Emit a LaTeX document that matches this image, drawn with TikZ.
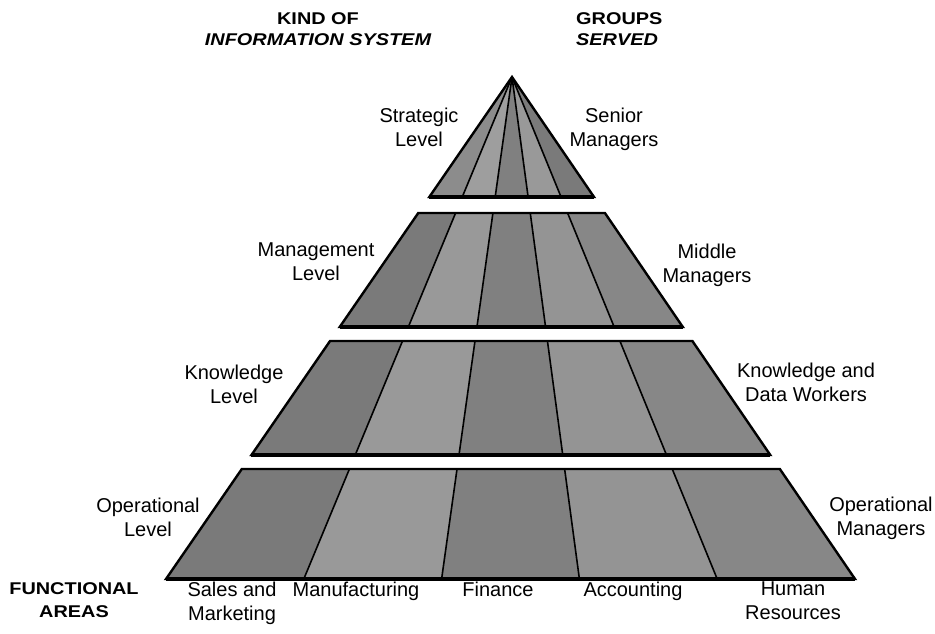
\documentclass[tikz,border=0pt]{standalone}
\usepackage{fontspec}
\setmainfont{Liberation Sans}
\usetikzlibrary{calc}
% left / right edge of the pyramid at height y (apex 512,77; base 166..855 at y=579)
\newcommand\drawtier[2]{%
  \pgfmathsetmacro\tl{512-0.68924*(#1-77)}%
  \pgfmathsetmacro\tr{512+0.68327*(#1-77)}%
  \pgfmathsetmacro\bl{512-0.68924*(#2-77)}%
  \pgfmathsetmacro\br{512+0.68327*(#2-77)}%
  \foreach \i/\s in {0/52,1/40,2/50,3/42,4/47}{%
    \pgfmathsetmacro\ta{\tl+(\tr-\tl)*\i/5}%
    \pgfmathsetmacro\tb{\tl+(\tr-\tl)*(\i+1)/5}%
    \pgfmathsetmacro\ba{\bl+(\br-\bl)*\i/5}%
    \pgfmathsetmacro\bb{\bl+(\br-\bl)*(\i+1)/5}%
    \fill[black!\s] (\ta,#1) -- (\tb,#1) -- (\bb,#2) -- (\ba,#2) -- cycle;
  }%
  \foreach \i in {1,2,3,4}{%
    \pgfmathsetmacro\ta{\tl+(\tr-\tl)*\i/5}%
    \pgfmathsetmacro\ba{\bl+(\br-\bl)*\i/5}%
    \draw[divider] (\ta,#1) -- (\ba,#2);
  }%
  \draw[edge] (\tl,#1) -- (\tr,#1) -- (\br,#2) -- (\bl,#2) -- cycle;
  \draw[line width=3.2pt] (\bl,#2) -- (\br,#2);
}
\begin{document}
\begin{tikzpicture}[x=1pt,y=-1pt,
  lbl/.style={font=\fontsize{20}{23.5}\selectfont, align=center, inner sep=0pt, anchor=north},
  ttl/.style={font=\fontsize{17}{21}\selectfont\bfseries, inner sep=0pt, anchor=north},
  edge/.style={line width=2.4pt, line join=miter},
  divider/.style={line width=1.6pt}]
\useasboundingbox (0,0) rectangle (935,634);

% strategic triangle
\coordinate (apex) at (512,77);
\coordinate (sl) at (429.3,197);
\coordinate (sr) at (594.0,197);
\foreach \i/\s in {0/45,1/38,2/50,3/40,4/52}{
  \fill[black!\s] (apex) -- ($(sl)!\i/5!(sr)$) -- ($(sl)!{(\i+1)/5}!(sr)$) -- cycle;
}
\foreach \i in {1,2,3,4}{
  \draw[divider] (apex) -- ($(sl)!\i/5!(sr)$);
}
\draw[edge] (apex) -- (sr) -- (sl) -- cycle;
\draw[line width=3.2pt] (sl) -- (sr);

% lower tiers
\drawtier{213}{327}
\drawtier{341}{455}
\drawtier{469}{579}

% headings
\node[ttl, align=center] (kind) at (318,12) {\scalebox{1.17}[1]{KIND OF}\\\scalebox{1.17}[1]{\itshape INFORMATION SYSTEM}};
\node[ttl, align=left, anchor=north west] (groups) at (576,12) {\scalebox{1.17}[1]{GROUPS}\\\scalebox{1.17}[1]{\itshape SERVED}};

% level labels
\node[lbl] (strat) at (419,108) {Strategic\\Level};
\node[lbl] (senior) at (614,108) {Senior\\Managers};
\node[lbl] (mgmt) at (316,243) {Management\\Level};
\node[lbl] (middle) at (707,244) {Middle\\Managers};
\node[lbl] (know) at (234,365) {Knowledge\\Level};
\node[lbl] (kdw) at (806,363) {Knowledge and\\Data Workers};
\node[lbl] (oper) at (148,498) {Operational\\Level};
\node[lbl] (opmgr) at (881,497) {Operational\\Managers};

% functional areas
\node[ttl, font=\fontsize{17}{23.5}\selectfont\bfseries, align=center] (areas) at (74,582) {\scalebox{1.17}[1]{FUNCTIONAL}\\\scalebox{1.17}[1]{AREAS}};
\node[lbl] (sales) at (232,582) {Sales and\\Marketing};
\node[lbl] (manu) at (356,582) {Manufacturing};
\node[lbl] (fin) at (498,582) {Finance};
\node[lbl] (acc) at (633,582) {Accounting};
\node[lbl] (hr) at (793,582) {Human\\Resources};
\end{tikzpicture}
\end{document}
